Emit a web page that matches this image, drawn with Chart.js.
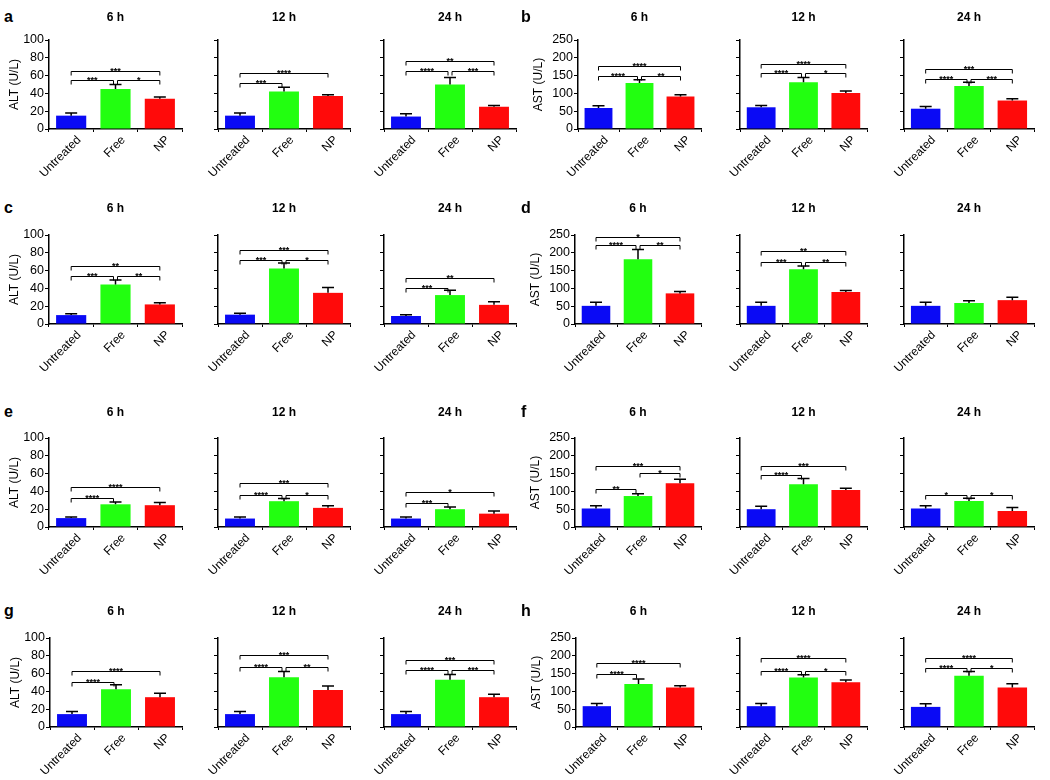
<!DOCTYPE html>
<html>
<head>
<meta charset="utf-8">
<script src="https://cdn.jsdelivr.net/npm/chart.js@4.4.1/dist/chart.umd.min.js"></script>
<style>
  body { margin: 0; background: #fff; width: 1050px; height: 780px; overflow: hidden; position: relative; }
  canvas { position: absolute; }
  .tag { position: absolute; font: bold 16px 'Liberation Sans', Arial, sans-serif; color: #000; }
</style>
</head>
<body>
<script>
// groups and time points
const groups = ['Untreated', 'Free', 'NP'];
const times = ['6 h', '12 h', '24 h'];
const barColors = ['#0a0af5', '#22ff10', '#ff0a0a'];
const altTicks = [0, 20, 40, 60, 80, 100];
const astTicks = [0, 50, 100, 150, 200, 250];

// mean, SD and significance brackets [from, to, stars, level] for each panel (6 h, 12 h, 24 h)
const aMean = [[15, 45, 34], [15, 42, 37], [14, 50, 25]];
const aSd = [[3, 5, 2], [3, 5, 1.5], [3, 8, 1.5]];
const aSig = [
  [[0, 1, '***', 55], [1, 2, '*', 55], [0, 2, '***', 65]],
  [[0, 1, '***', 52], [0, 2, '****', 63]],
  [[0, 1, '****', 65], [1, 2, '***', 65], [0, 2, '**', 76]]
];

const bMean = [[59, 129, 91], [61, 131, 101], [57, 121, 80]];
const bSd = [[6, 9, 5], [5, 14, 6], [6, 10, 5]];
const bSig = [
  [[0, 1, '****', 149], [1, 2, '**', 149], [0, 2, '****', 177]],
  [[0, 1, '****', 157], [1, 2, '*', 157], [0, 2, '****', 182]],
  [[0, 1, '****', 141], [1, 2, '***', 141], [0, 2, '***', 169]]
];

const cMean = [[10, 44.5, 22], [10.5, 62.5, 35], [9, 32.5, 21.5]];
const cSd = [[1.6, 4.8, 2], [1.5, 6, 6], [1.5, 5.4, 3.6]];
const cSig = [
  [[0, 1, '***', 54], [1, 2, '**', 54], [0, 2, '**', 65.5]],
  [[0, 1, '***', 72], [1, 2, '*', 72], [0, 2, '***', 83]],
  [[0, 1, '***', 41], [0, 2, '**', 51.5]]
];

const dMean = [[51, 182, 86], [51, 154, 90], [51, 59, 67]];
const dSd = [[10, 27, 5], [10, 9, 4], [10, 6, 8]];
const dSig = [
  [[0, 1, '****', 221], [1, 2, '**', 221], [0, 2, '*', 244]],
  [[0, 1, '***', 175], [1, 2, '**', 175], [0, 2, '**', 205]],
  []
];

const eMean = [[10, 25.5, 24.5], [9.5, 29, 21.5], [9.5, 20, 15]];
const eSd = [[1.3, 2.6, 3], [1.6, 3, 2.5], [1.6, 2.6, 3]];
const eSig = [
  [[0, 1, '****', 33], [0, 2, '****', 45]],
  [[0, 1, '****', 36.5], [1, 2, '*', 36.5], [0, 2, '***', 50]],
  [[0, 1, '***', 27.5], [0, 2, '*', 39.5]]
];

const fMean = [[52, 87, 123], [50, 120, 104], [52, 73, 45]];
const fSd = [[7.5, 6.5, 11], [8.5, 16, 4.5], [7.5, 7.5, 9.5]];
const fSig = [
  [[0, 1, '**', 106], [1, 2, '*', 151], [0, 2, '***', 172]],
  [[0, 1, '****', 146], [0, 2, '***', 172]],
  [[0, 1, '*', 91], [1, 2, '*', 90]]
];

const gMean = [[14.5, 42.5, 33.5], [14.5, 56, 41.5], [14.5, 53, 33.5]];
const gSd = [[3, 5, 4.5], [3, 6.5, 4.5], [3, 6, 3.3]];
const gSig = [
  [[0, 1, '****', 51], [0, 2, '****', 62.5]],
  [[0, 1, '****', 67.5], [1, 2, '**', 67.5], [0, 2, '***', 80.5]],
  [[0, 1, '****', 63.5], [1, 2, '***', 63.5], [0, 2, '***', 75.5]]
];

const hMean = [[58.5, 121, 111], [58.5, 139, 125.5], [56.5, 144, 111]];
const hSd = [[7.5, 14, 5], [7.5, 7.5, 6.5], [8.5, 12, 10.5]];
const hSig = [
  [[0, 1, '****', 149], [0, 2, '****', 179]],
  [[0, 1, '****', 157.5], [1, 2, '*', 157.5], [0, 2, '****', 193]],
  [[0, 1, '****', 167], [1, 2, '*', 167], [0, 2, '****', 195]]
];

Chart.defaults.font.family = "'Liberation Sans', Arial, sans-serif";
Chart.defaults.font.size = 12;
Chart.defaults.color = '#000';

const FONT = "'Liberation Sans', Arial, sans-serif";
const PLOT_H = 89, TOP_PAD = 40, X_H = 55;
const rowTops = [40, 235, 438, 638];
const titleGaps = [22, 26, 25, 26];
const halfAxes = [[49, 218, 384], [577, 740, 904]];
const halfRights = [[182, 350, 516], [701, 867, 1034]];
const tagX = [4, 521];

const panels = [
  { tag: 'a', mean: aMean, sd: aSd, sig: aSig, ticks: altTicks, title: 'ALT (U/L)', half: 0, row: 0, x0: 49 },
  { tag: 'b', mean: bMean, sd: bSd, sig: bSig, ticks: astTicks, title: 'AST (U/L)', half: 1, row: 0, x0: 578 },
  { tag: 'c', mean: cMean, sd: cSd, sig: cSig, ticks: altTicks, title: 'ALT (U/L)', half: 0, row: 1, x0: 49 },
  { tag: 'd', mean: dMean, sd: dSd, sig: dSig, ticks: astTicks, title: 'AST (U/L)', half: 1, row: 1, x0: 575 },
  { tag: 'e', mean: eMean, sd: eSd, sig: eSig, ticks: altTicks, title: 'ALT (U/L)', half: 0, row: 2, x0: 49 },
  { tag: 'f', mean: fMean, sd: fSd, sig: fSig, ticks: astTicks, title: 'AST (U/L)', half: 1, row: 2, x0: 575 },
  { tag: 'g', mean: gMean, sd: gSd, sig: gSig, ticks: altTicks, title: 'ALT (U/L)', half: 0, row: 3, x0: 50 },
  { tag: 'h', mean: hMean, sd: hSd, sig: hSig, ticks: astTicks, title: 'AST (U/L)', half: 1, row: 3, x0: 576 }
];

// error bars (upper only), significance brackets and the time title
const extras = {
  id: 'extras',
  afterDatasetsDraw(chart, args, opts) {
    const { ctx, scales: { x, y } } = chart;
    const meta = chart.getDatasetMeta(0);
    ctx.save();
    ctx.strokeStyle = '#000';
    ctx.lineWidth = 1.5;
    meta.data.forEach((bar, i) => {
      const top = y.getPixelForValue(opts.mean[i] + opts.sd[i]);
      ctx.beginPath();
      ctx.moveTo(bar.x, bar.y);
      ctx.lineTo(bar.x, top);
      ctx.moveTo(bar.x - 6, top);
      ctx.lineTo(bar.x + 6, top);
      ctx.stroke();
    });
    ctx.lineWidth = 1;
    ctx.fillStyle = '#000';
    ctx.font = 'bold 9px ' + FONT;
    ctx.textAlign = 'center';
    ctx.textBaseline = 'alphabetic';
    opts.sig.forEach(([i, j, stars, level]) => {
      let x1 = x.getPixelForValue(i);
      let x2 = x.getPixelForValue(j);
      if (j - i === 1) {
        if (i === 1) x1 += 2;
        if (j === 1) x2 -= 2;
      }
      const yy = Math.round(y.getPixelForValue(level)) + 0.5;
      ctx.beginPath();
      ctx.moveTo(x1, yy + 4);
      ctx.lineTo(x1, yy);
      ctx.lineTo(x2, yy);
      ctx.lineTo(x2, yy + 4);
      ctx.stroke();
      ctx.fillText(stars, (x1 + x2) / 2, yy + 2);
    });
    const ca = chart.chartArea;
    ctx.font = 'bold 12px ' + FONT;
    ctx.textBaseline = 'middle';
    ctx.fillText(opts.time, (ca.left + ca.right) / 2, ca.top - opts.gap);
    ctx.restore();
  }
};

panels.forEach(p => {
  const rowTop = rowTops[p.row];
  const gap = titleGaps[p.row];
  const tag = document.createElement('div');
  tag.className = 'tag';
  tag.textContent = p.tag;
  tag.style.left = tagX[p.half] + 'px';
  tag.style.top = (rowTop - gap - 10) + 'px';
  document.body.appendChild(tag);

  times.forEach((time, c) => {
    const axisX = c === 0 ? p.x0 : halfAxes[p.half][c];
    const right = halfRights[p.half][c];
    const yW = c === 0 ? (p.half === 0 ? 42 : 47) : 34;
    const left = axisX - yW;
    const cv = document.createElement('canvas');
    cv.width = right - left + 2;
    cv.height = TOP_PAD + PLOT_H + X_H;
    cv.style.left = left + 'px';
    cv.style.top = (rowTop - TOP_PAD) + 'px';
    document.body.appendChild(cv);

    new Chart(cv, {
      type: 'bar',
      data: {
        labels: groups,
        datasets: [{
          data: p.mean[c],
          backgroundColor: barColors,
          borderWidth: 0,
          barPercentage: 0.68,
          categoryPercentage: 1
        }]
      },
      options: {
        responsive: false,
        animation: false,
        layout: { padding: { top: TOP_PAD, left: 0, right: 2, bottom: 0 } },
        plugins: {
          legend: { display: false },
          tooltip: { enabled: false },
          extras: { mean: p.mean[c], sd: p.sd[c], sig: p.sig[c], time: time, gap: gap }
        },
        scales: {
          x: {
            grid: { display: true, drawOnChartArea: false, drawTicks: true, tickLength: 3, color: '#000' },
            border: { display: true, color: '#000', width: 1.5 },
            ticks: { minRotation: 45, maxRotation: 45, padding: 1, labelOffset: 8, font: { size: 12 } },
            afterFit: s => { s.height = X_H; }
          },
          y: {
            min: 0,
            max: p.ticks[p.ticks.length - 1],
            afterBuildTicks: s => { s.ticks = p.ticks.map(v => ({ value: v })); },
            grid: { display: true, drawOnChartArea: false, drawTicks: true, tickLength: 4, color: '#000' },
            border: { display: true, color: '#000', width: 1.5 },
            ticks: { display: c === 0, autoSkip: false, padding: 1, font: { size: 12.5 } },
            title: { display: c === 0, text: p.title, padding: { top: 0, bottom: 0 }, font: { size: 12 } },
            afterFit: s => { s.width = yW; }
          }
        }
      },
      plugins: [extras]
    });
  });
});
</script>
</body>
</html>
